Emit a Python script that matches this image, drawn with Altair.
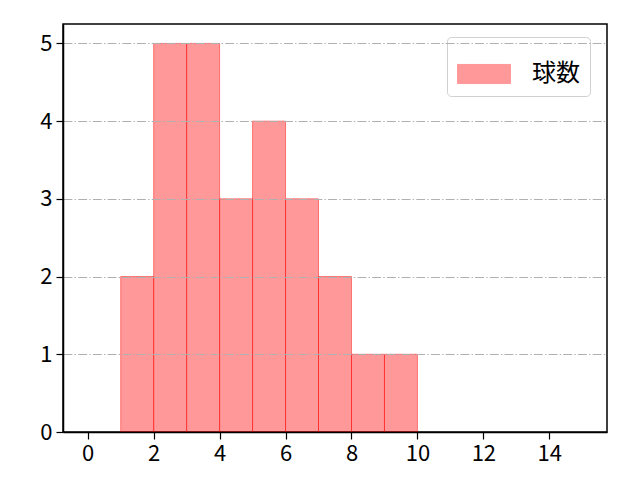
import altair as alt
import pandas as pd

bin_start = [1, 2, 3, 4, 5, 6, 7, 8, 9]
bin_end = [2, 3, 4, 5, 6, 7, 8, 9, 10]
counts = [2, 5, 5, 3, 4, 3, 2, 1, 1]
series = ["球数"] * len(counts)
x_ticks = [0, 2, 4, 6, 8, 10, 12, 14]
y_ticks = [0, 1, 2, 3, 4, 5]

df = pd.DataFrame({"start": bin_start, "end": bin_end, "count": counts, "series": series})

FONT = "Noto Sans CJK JP"

bars = alt.Chart(df).mark_bar(
    fillOpacity=0.4, stroke="#ff0000", strokeOpacity=0.45, strokeWidth=1
).encode(
    x=alt.X("start:Q", scale=alt.Scale(domain=[-0.75, 15.75], nice=False, zero=False),
            axis=alt.Axis(values=x_ticks, title=None, grid=False, zindex=1,
                          domainColor="black", domainWidth=1.5, tickColor="black",
                          tickSize=7, tickWidth=1.2, labelPadding=4)),
    x2="end:Q",
    y=alt.Y("count:Q", scale=alt.Scale(domain=[0, 5.25], nice=False),
            axis=alt.Axis(values=y_ticks, title=None, grid=True, zindex=1,
                          gridColor="#b0b0b0", gridDash=[8.9, 2.2, 1.4, 2.2], gridWidth=1,
                          domainColor="black", domainWidth=1.5, tickColor="black",
                          tickSize=7, tickWidth=1.2, labelPadding=4)),
    y2=alt.datum(0),
    color=alt.Color("series:N", scale=alt.Scale(range=["#ff0000"]),
                    legend=alt.Legend(title=None, orient="none", legendX=384, legendY=13,
                                      symbolType="M-1,-0.36L1,-0.36L1,0.36L-1,0.36Z",
                                      symbolSize=2809, symbolOpacity=0.4,
                                      symbolStrokeColor="#ff0000", symbolStrokeWidth=1,
                                      labelFontSize=24, labelFont=FONT, labelOffset=21,
                                      padding=10, cornerRadius=4, strokeColor="#d0d0d0",
                                      fillColor="white")),
)

chart = bars.properties(
    width=544, height=408,
    padding={"left": 55, "top": 16, "right": 25, "bottom": 40},
    autosize=alt.AutoSizeParams(type="none"),
    background="white",
).configure_view(
    stroke="black", strokeWidth=1.5
).configure_axis(
    labelFont=FONT, labelFontSize=22, labelColor="black"
)

chart.save("out.html", embed_options={"renderer": "svg", "actions": False})
